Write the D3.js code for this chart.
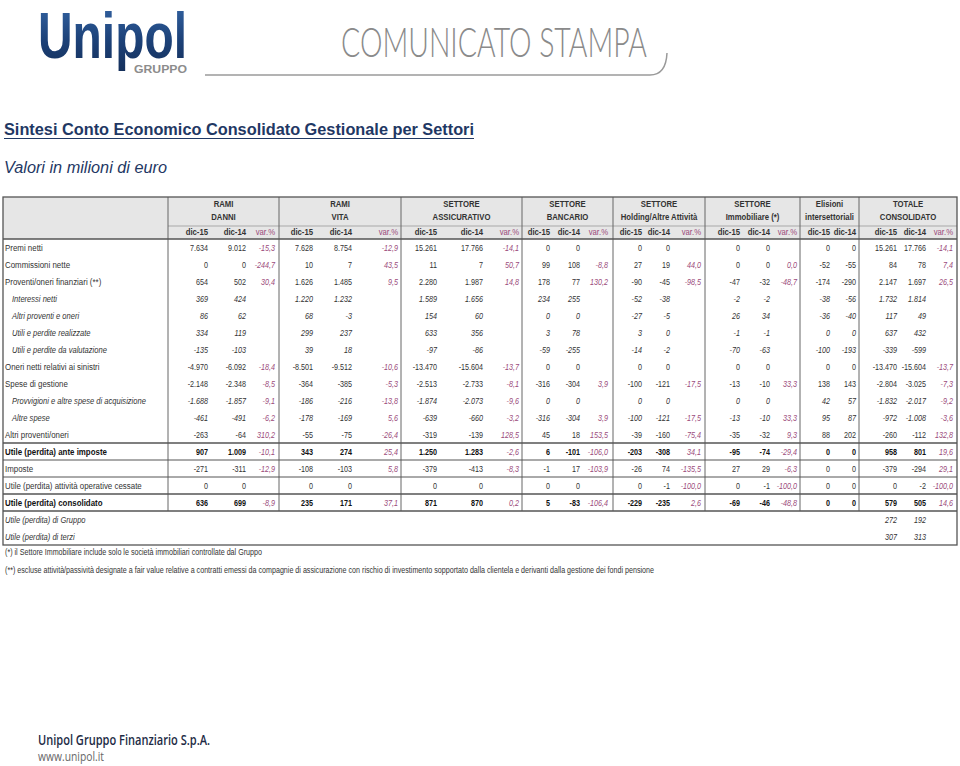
<!DOCTYPE html>
<html>
<head>
<meta charset="utf-8">
<script src="https://cdn.jsdelivr.net/npm/d3@7"></script>
<style>
body { margin: 0; background: #fff; }
svg { display: block; }
</style>
</head>
<body>
<div id="main"></div>
<script>

// ---- data ----
const rowLabels = [
	"Premi netti",
	"Commissioni nette",
	"Proventi/oneri finanziari (**)",
	"Interessi netti",
	"Altri proventi e oneri",
	"Utili e perdite realizzate",
	"Utili e perdite da valutazione",
	"Oneri netti relativi ai sinistri",
	"Spese di gestione",
	"Provvigioni e altre spese di acquisizione",
	"Altre spese",
	"Altri proventi/oneri",
	"Utile (perdita) ante imposte",
	"Imposte",
	"Utile (perdita) attività operative cessate",
	"Utile (perdita) consolidato",
	"Utile (perdita) di Gruppo",
	"Utile (perdita) di terzi"
]

const sectorNames = [
	["RAMI", "DANNI"],
	["RAMI", "VITA"],
	["SETTORE", "ASSICURATIVO"],
	["SETTORE", "BANCARIO"],
	["SETTORE", "Holding/Altre Attività"],
	["SETTORE", "Immobiliare (*)"],
	["Elisioni", "intersettoriali"],
	["TOTALE", "CONSOLIDATO"]
]

const periodLabels = ["dic-15", "dic-14", "var.%"]

// [dic-15, dic-14, var.%] per row
const ramiDanni = [
	[7634, 9012, -15.3], [0, 0, -244.7], [654, 502, 30.4],
	[369, 424, null], [86, 62, null], [334, 119, null], [-135, -103, null],
	[-4970, -6092, -18.4], [-2148, -2348, -8.5], [-1688, -1857, -9.1], [-461, -491, -6.2],
	[-263, -64, 310.2], [907, 1009, -10.1], [-271, -311, -12.9], [0, 0, null], [636, 699, -8.9],
	[null, null, null], [null, null, null]
]

const ramiVita = [
	[7628, 8754, -12.9], [10, 7, 43.5], [1626, 1485, 9.5],
	[1220, 1232, null], [68, -3, null], [299, 237, null], [39, 18, null],
	[-8501, -9512, -10.6], [-364, -385, -5.3], [-186, -216, -13.8], [-178, -169, 5.6],
	[-55, -75, -26.4], [343, 274, 25.4], [-108, -103, 5.8], [0, 0, null], [235, 171, 37.1],
	[null, null, null], [null, null, null]
]

const assicurativo = [
	[15261, 17766, -14.1], [11, 7, 50.7], [2280, 1987, 14.8],
	[1589, 1656, null], [154, 60, null], [633, 356, null], [-97, -86, null],
	[-13470, -15604, -13.7], [-2513, -2733, -8.1], [-1874, -2073, -9.6], [-639, -660, -3.2],
	[-319, -139, 128.5], [1250, 1283, -2.6], [-379, -413, -8.3], [0, 0, null], [871, 870, 0.2],
	[null, null, null], [null, null, null]
]

const bancario = [
	[0, 0, null], [99, 108, -8.8], [178, 77, 130.2],
	[234, 255, null], [0, 0, null], [3, 78, null], [-59, -255, null],
	[0, 0, null], [-316, -304, 3.9], [0, 0, null], [-316, -304, 3.9],
	[45, 18, 153.5], [6, -101, -106.0], [-1, 17, -103.9], [0, 0, null], [5, -83, -106.4],
	[null, null, null], [null, null, null]
]

const holding = [
	[0, 0, null], [27, 19, 44.0], [-90, -45, -98.5],
	[-52, -38, null], [-27, -5, null], [3, 0, null], [-14, -2, null],
	[0, 0, null], [-100, -121, -17.5], [0, 0, null], [-100, -121, -17.5],
	[-39, -160, -75.4], [-203, -308, 34.1], [-26, 74, -135.5], [0, -1, -100.0], [-229, -235, 2.6],
	[null, null, null], [null, null, null]
]

const immobiliare = [
	[0, 0, null], [0, 0, 0.0], [-47, -32, -48.7],
	[-2, -2, null], [26, 34, null], [-1, -1, null], [-70, -63, null],
	[0, 0, null], [-13, -10, 33.3], [0, 0, null], [-13, -10, 33.3],
	[-35, -32, 9.3], [-95, -74, -29.4], [27, 29, -6.3], [0, -1, -100.0], [-69, -46, -48.8],
	[null, null, null], [null, null, null]
]

// [dic-15, dic-14]
const elisioni = [
	[0, 0], [-52, -55], [-174, -290],
	[-38, -56], [-36, -40], [0, 0], [-100, -193],
	[0, 0], [138, 143], [42, 57], [95, 87],
	[88, 202], [0, 0], [0, 0], [0, 0], [0, 0],
	[null, null], [null, null]
]

const totale = [
	[15261, 17766, -14.1], [84, 78, 7.4], [2147, 1697, 26.5],
	[1732, 1814, null], [117, 49, null], [637, 432, null], [-339, -599, null],
	[-13470, -15604, -13.7], [-2804, -3025, -7.3], [-1832, -2017, -9.2], [-972, -1008, -3.6],
	[-260, -112, 132.8], [958, 801, 19.6], [-379, -294, 29.1], [0, -2, -100.0], [579, 505, 14.6],
	[272, 192, null], [307, 313, null]
]

const sectorData = [ramiDanni, ramiVita, assicurativo, bancario, holding, immobiliare, elisioni, totale]

const footnotes = [
	"(*) il Settore Immobiliare include solo le società immobiliari controllate dal Gruppo",
	"(**) escluse attività/passività designate a fair value relative a contratti emessi da compagnie di assicurazione con rischio di investimento sopportato dalla clientela e derivanti dalla gestione dei fondi pensione"
]

// ---- layout ----
const W = 960, H = 766
const tableLeft = 3, tableRight = 957, tableTop = 197, headerMid = 226, headerBottom = 239, tableBottom = 545
const groupEdges = [168, 279, 401, 522, 613, 705, 800, 859, tableRight]
const colRight = [
	[208, 246, 275], [313, 352, 398], [437, 483, 519], [550, 580, 608],
	[642, 670, 701], [740, 770, 797], [830, 856], [897, 926, 953]
]
const subRows = [3, 4, 5, 6, 9, 10]
const italicRows = [16, 17]
const boldRows = [12, 15]

const textCol = "#333"
const varCol = "#9b4b7b"
const navy = "#1f3864"
const numFont = "'Liberation Sans', Arial, sans-serif"

const it = d3.formatLocale({decimal: ",", thousands: ".", grouping: [3], currency: ["€", ""], minus: "-"})
const fmtInt = it.format(",d")
const fmtPct = it.format(".1f")

const y = d3.scaleBand()
	.domain(rowLabels)
	.range([headerBottom, tableBottom])

const xs = colRight.map((r, i) => d3.scaleOrdinal()
	.domain(periodLabels.slice(0, r.length))
	.range(r))

let svg = d3.select("#main")
	.append("svg")
		.attr("width", W)
		.attr("height", H)
		.style("font-family", numFont)

// ---- top banner ----
let defs = svg.append("defs")
let grad = defs.append("linearGradient")
	.attr("id", "logoGrad")
	.attr("x1", 0).attr("y1", 0).attr("x2", 0).attr("y2", 1)
grad.append("stop").attr("offset", "0%").attr("stop-color", "#3566a6")
grad.append("stop").attr("offset", "55%").attr("stop-color", "#1d4279")
grad.append("stop").attr("offset", "100%").attr("stop-color", "#142f5a")

svg.append("text")
	.attr("x", 38).attr("y", 58)
	.attr("textLength", 149).attr("lengthAdjust", "spacingAndGlyphs")
	.style("font-size", "64px").style("font-weight", "bold")
	.style("fill", "url(#logoGrad)")
	.text("Unipol")

svg.append("text")
	.attr("x", 134).attr("y", 73)
	.attr("textLength", 53).attr("lengthAdjust", "spacingAndGlyphs")
	.style("font-size", "10px").style("font-weight", "bold")
	.style("fill", "#8c8c8c")
	.text("GRUPPO")

svg.append("text")
	.attr("x", 341).attr("y", 57)
	.attr("textLength", 306).attr("lengthAdjust", "spacingAndGlyphs")
	.style("font-family", "Lato, 'Open Sans', sans-serif")
	.style("font-size", "41px").style("font-weight", 300)
	.style("fill", "#8a8a8a")
	.text("COMUNICATO STAMPA")

svg.append("path")
	.attr("d", "M205,75 L650,75 Q666,75 667,53")
	.style("fill", "none").style("stroke", "#9a9a9a").style("stroke-width", 1.5)

// ---- title ----
svg.append("text")
	.attr("x", 4).attr("y", 135)
	.attr("textLength", 470).attr("lengthAdjust", "spacingAndGlyphs")
	.style("font-size", "16px").style("font-weight", "bold").style("fill", navy)
	.text("Sintesi Conto Economico Consolidato Gestionale per Settori")

svg.append("line")
	.attr("x1", 4).attr("x2", 474).attr("y1", 138.5).attr("y2", 138.5)
	.style("stroke", navy).style("stroke-width", 1.2)

svg.append("text")
	.attr("x", 4).attr("y", 173)
	.attr("textLength", 163).attr("lengthAdjust", "spacingAndGlyphs")
	.style("font-size", "16px").style("font-style", "italic").style("fill", navy)
	.text("Valori in milioni di euro")

// ---- table header ----
let table = svg.append("g")

table.append("rect")
	.attr("x", tableLeft).attr("y", tableTop)
	.attr("width", tableRight - tableLeft).attr("height", headerBottom - tableTop)
	.style("fill", "#e6e6e6")

table.append("line")
	.attr("x1", groupEdges[0]).attr("x2", tableRight)
	.attr("y1", headerMid).attr("y2", headerMid)
	.style("stroke", "#a8a8a8").style("stroke-width", 1)

// narrow text helper: scaled horizontally round its anchor
const place = (sel, sx) => sel.attr("transform", d => `translate(${d.x},${d.y}) scale(${sx},1)`)

const groupTitles = sectorNames.flatMap((n, i) => n.map((t, k) => ({
	x: (groupEdges[i] + groupEdges[i + 1]) / 2,
	y: k == 0 ? 207 : 220,
	t: t
})))

table.selectAll(".gtitle")
	.data(groupTitles)
	.enter()
	.append("text")
		.attr("class", "gtitle")
		.call(place, 0.88)
		.attr("text-anchor", "middle")
		.style("font-size", "8.8px").style("font-weight", "bold").style("fill", textCol)
		.text(d => d.t)

const periodCells = colRight.flatMap((r, i) => periodLabels.slice(0, r.length).map(p => ({
	x: xs[i](p), y: 235, t: p
})))

table.selectAll(".period")
	.data(periodCells)
	.enter()
	.append("text")
		.attr("class", "period")
		.call(place, 0.88)
		.attr("text-anchor", "end")
		.style("font-size", "8.8px")
		.style("font-weight", d => d.t == "var.%" ? "normal" : "bold")
		.style("fill", d => d.t == "var.%" ? varCol : textCol)
		.text(d => d.t)

// ---- body ----
const labelCells = rowLabels.map((l, r) => ({
	x: subRows.includes(r) ? 12 : 5,
	y: y(l) + y.bandwidth() / 2 + 3,
	t: l,
	italic: subRows.includes(r) || italicRows.includes(r),
	bold: boldRows.includes(r)
}))

table.selectAll(".rlabel")
	.data(labelCells)
	.enter()
	.append("text")
		.attr("class", "rlabel")
		.call(place, 0.86)
		.style("font-size", d => d.italic ? "8.8px" : "9.2px")
		.style("font-style", d => d.italic ? "italic" : "normal")
		.style("font-weight", d => d.bold ? "bold" : "normal")
		.style("fill", d => d.bold ? "#111" : textCol)
		.text(d => d.t)

const cells = []
sectorData.forEach((rows, i) => {
	rows.forEach((vals, r) => {
		vals.forEach((v, c) => {
			if (v === null) return
			const isVar = c == 2
			cells.push({
				x: xs[i](periodLabels[c]),
				y: y(rowLabels[r]) + y.bandwidth() / 2 + 3,
				t: isVar ? fmtPct(v) : fmtInt(v),
				isVar: isVar,
				italic: isVar || subRows.includes(r) || italicRows.includes(r),
				bold: !isVar && boldRows.includes(r)
			})
		})
	})
})

table.selectAll(".cell")
	.data(cells)
	.enter()
	.append("text")
		.attr("class", "cell")
		.call(place, 0.8)
		.attr("text-anchor", "end")
		.style("font-size", "9px")
		.style("font-style", d => d.italic ? "italic" : "normal")
		.style("font-weight", d => d.bold ? "bold" : "normal")
		.style("fill", d => d.isVar ? varCol : (d.bold ? "#111" : textCol))
		.text(d => d.t)

// ---- grid ----
const gridBottom = y(rowLabels[15]) + y.bandwidth()

table.selectAll(".vline")
	.data(groupEdges.slice(0, -1))
	.enter()
	.append("line")
		.attr("class", "vline")
		.attr("x1", d => d).attr("x2", d => d)
		.attr("y1", tableTop).attr("y2", gridBottom)
		.style("stroke", "#666").style("stroke-width", 1)

const hlines = [
	{y: headerBottom, w: 1.6},
	{y: y(rowLabels[12]), w: 1.5},
	{y: y(rowLabels[13]), w: 1},
	{y: y(rowLabels[14]), w: 1},
	{y: y(rowLabels[15]), w: 1.5},
	{y: gridBottom, w: 1.5}
]

table.selectAll(".hline")
	.data(hlines)
	.enter()
	.append("line")
		.attr("class", "hline")
		.attr("x1", tableLeft).attr("x2", tableRight)
		.attr("y1", d => d.y).attr("y2", d => d.y)
		.style("stroke", "#555").style("stroke-width", d => d.w)

table.append("rect")
	.attr("x", tableLeft).attr("y", tableTop)
	.attr("width", tableRight - tableLeft).attr("height", tableBottom - tableTop)
	.style("fill", "none").style("stroke", "#555").style("stroke-width", 1.3)

// ---- footnotes ----
svg.selectAll(".foot")
	.data(footnotes)
	.enter()
	.append("text")
		.attr("class", "foot")
		.attr("x", 5)
		.attr("y", (d, i) => 555 + i * 18)
		.attr("textLength", (d, i) => i == 0 ? 257 : 649)
		.attr("lengthAdjust", "spacingAndGlyphs")
		.style("font-size", "8.6px").style("fill", textCol)
		.text(d => d)

// ---- footer ----
svg.append("text")
	.attr("x", 38).attr("y", 745)
	.attr("textLength", 172).attr("lengthAdjust", "spacingAndGlyphs")
	.style("font-family", "'Open Sans', sans-serif")
	.style("font-size", "14px").style("font-weight", 600).style("fill", "#1d2b45")
	.text("Unipol Gruppo Finanziario S.p.A.")

svg.append("text")
	.attr("x", 38).attr("y", 761)
	.attr("textLength", 66).attr("lengthAdjust", "spacingAndGlyphs")
	.style("font-family", "'Open Sans', sans-serif")
	.style("font-size", "12px").style("fill", "#666")
	.text("www.unipol.it")

</script>
</body>
</html>
